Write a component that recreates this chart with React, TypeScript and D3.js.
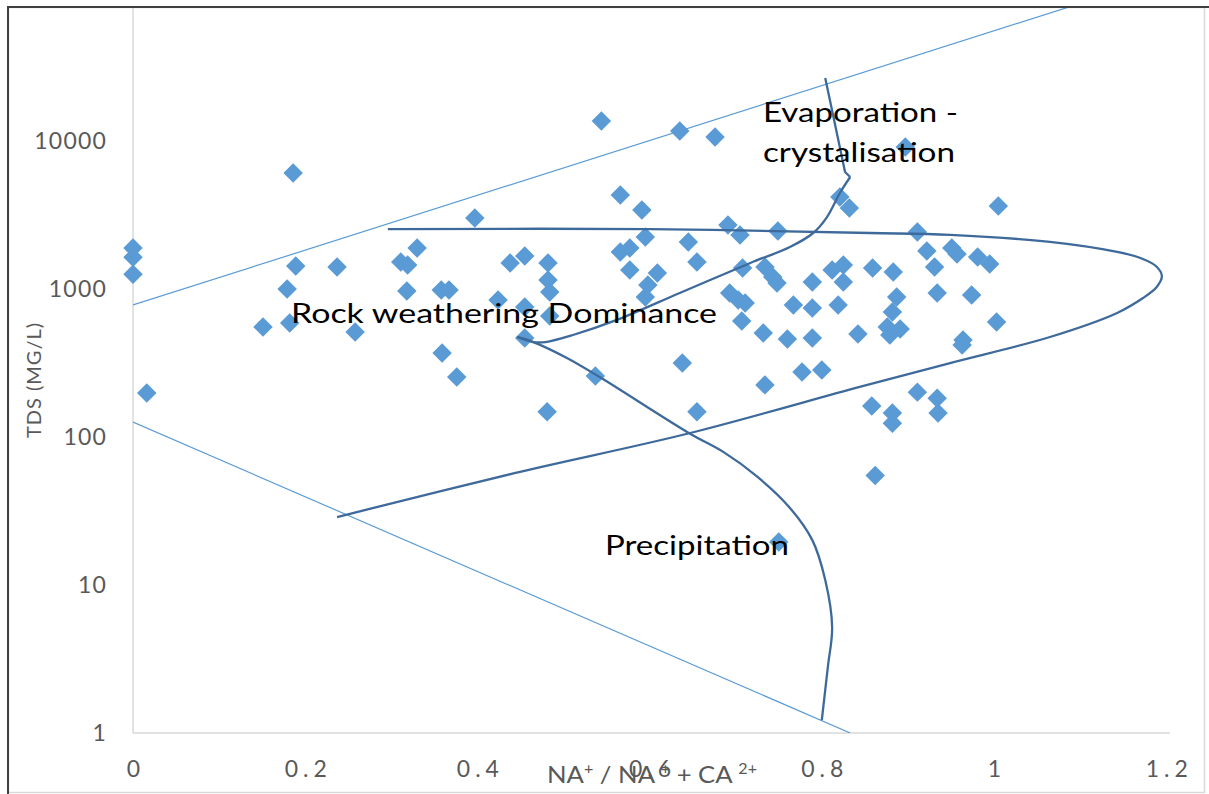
import React from "react";
import * as d3 from "d3";

// Sample points: Na+/(Na+ + Ca2+) ratio and TDS (mg/L)
const ratio = [
  0, 0, 0, 0.016, 0.186, 0.189, 0.237, 0.179, 0.151, 0.182, 0.258, 0.311, 0.319, 0.318, 0.33,
  0.397, 0.358, 0.367, 0.438, 0.455, 0.482, 0.482, 0.484, 0.424, 0.455, 0.484, 0.455, 0.359,
  0.376, 0.481, 0.537, 0.544, 0.635, 0.676, 0.566, 0.591, 0.595, 0.577, 0.566, 0.577, 0.609,
  0.598, 0.595, 0.638, 0.655, 0.645, 0.655, 0.691, 0.705, 0.749, 0.708, 0.734, 0.743, 0.748,
  0.693, 0.711, 0.707, 0.732, 0.76, 0.767, 0.789, 0.812, 0.825, 0.825, 0.789, 0.819, 0.789,
  0.842, 0.777, 0.8, 0.734, 0.821, 0.832, 0.897, 0.858, 0.911, 0.922, 0.951, 0.957, 0.981,
  0.995, 0.859, 0.883, 0.931, 0.934, 0.974, 0.887, 0.882, 1.003, 0.876, 0.891, 0.879, 0.964,
  0.963, 0.911, 0.934, 0.935, 0.882, 0.882, 0.862, 1.005, 0.75, 0.703,
];
const tds = [
  1890, 1640, 1260, 198, 6080, 1430, 1410, 1000, 554, 589, 512, 1520, 1450, 969, 1890,
  3020, 984, 984, 1500, 1670, 1500, 1150, 954, 843, 756, 657, 467, 370,
  254, 148, 258, 13650, 11690, 10640, 4320, 3420, 2245, 1890, 1780, 1344, 1282,
  1065, 883, 316, 148, 2078, 1522, 2706, 2317, 2466, 1387, 1409, 1205, 1098,
  940, 804, 608, 504, 459, 780, 1115, 1344, 1453, 1115, 744, 780, 467,
  497, 275, 284, 225, 4188, 3525, 9100, 162, 2427, 1807, 1892, 1722, 1644,
  1476, 1387, 1303, 1409, 940, 911, 883, 699, 599, 554, 537, 489, 452,
  419, 201, 183, 145, 145, 124, 55, 3640, 19.5, 843,
];

// Gibbs boundary lines
const upperLimitX = [0, 1.1];
const upperLimitY = [780, 85000];
const lowerLimitX = [0, 0.833];
const lowerLimitY = [126, 1];

const envelopeX = [0.296, 0.6, 0.856, 0.949, 1.065, 1.143, 1.17, 1.188, 1.195, 1.189, 1.173, 1.143, 1.065, 0.949, 0.844, 0.646, 0.443, 0.237];
const envelopeY = [2540, 2540, 2390, 2320, 2080, 1780, 1620, 1430, 1224, 1032, 869, 689, 474, 316, 218, 106, 57, 28.8];

const precipX = [0.446, 0.465, 0.504, 0.542, 0.646, 0.686, 0.725, 0.762, 0.789, 0.804, 0.812, 0.807, 0.8];
const precipY = [474, 438, 342, 254, 106, 79, 54, 33.7, 20.1, 10.8, 5.2, 2.79, 1.22];

const evapX = [0.446, 0.465, 0.479, 0.511, 0.562, 0.635, 0.717, 0.763, 0.79, 0.806, 0.821, 0.833];
const evapY = [474, 438, 438, 489, 618, 940, 1500, 1922, 2390, 3064, 4453, 5711];
const evapTipX = [0.833, 0.827, 0.804];
const evapTipY = [5711, 6176, 26650];

const xTicks = [0, 0.2, 0.4, 0.6, 0.8, 1, 1.2];
const xTickLabels = ["0", "0.2", "0.4", "0.6", "0.8", "1", "1.2"];
const yTicks = [1, 10, 100, 1000, 10000];
const yTickLabels = ["1", "10", "100", "1000", "10000"];

const W = 1209;
const H = 794;
const x = d3.scaleLinear().domain([0, 1.2]).range([133, 1166.2]);
const y = d3.scaleLog().domain([1, 100000]).range([733, -7]);

const zip = (xs: number[], ys: number[]) => xs.map((v, i) => [v, ys[i]] as [number, number]);

const straight = d3
  .line<[number, number]>()
  .x((d) => x(d[0]))
  .y((d) => y(d[1]));
const smooth = d3
  .line<[number, number]>()
  .x((d) => x(d[0]))
  .y((d) => y(d[1]))
  .curve(d3.curveCatmullRom.alpha(0.5));

const diamond = d3.symbol().type(d3.symbolSquare).size(190)() as string;

const FONT = "Lato, 'Open Sans', sans-serif";
const GRAY = "#595959";
const DARK = "#3E6A9B";
const LIGHT = "#5B9BD5";

export default function App() {
  return (
    <svg
      width={W}
      height={H}
      style={{ position: "absolute", left: 0, top: 0, background: "#fff" }}
    >
      <defs>
        <clipPath id="plotClip">
          <rect x={133} y={8} width={1070} height={725} />
        </clipPath>
      </defs>
      <rect x={0} y={0} width={W} height={H} fill="#fff" />
      {/* frame */}
      <rect x={8.5} y={7.5} width={1196} height={785} fill="none" stroke="#D9D9D9" strokeWidth={1.5} />
      <line x1={8} y1={7} x2={W} y2={7} stroke="#404040" strokeWidth={2} />
      <line x1={8} y1={6} x2={8} y2={H} stroke="#404040" strokeWidth={2} />

      {/* axes */}
      <line x1={x(0)} y1={8} x2={x(0)} y2={y(1)} stroke="#D9D9D9" strokeWidth={1.5} />
      <line x1={x(0)} y1={y(1)} x2={1170} y2={y(1)} stroke="#D9D9D9" strokeWidth={1.5} />

      {yTicks.map((t, i) => (
        <text
          key={"yt" + i}
          x={107}
          y={y(t) + 8}
          textAnchor="end"
          fontFamily={FONT}
          fontSize={23}
          letterSpacing={1.2}
          fill={GRAY}
        >
          {yTickLabels[i]}
        </text>
      ))}
      {xTicks.map((t, i) => (
        <text
          key={"xt" + i}
          x={x(t) + 3}
          y={777}
          textAnchor="middle"
          fontFamily={FONT}
          fontSize={23}
          letterSpacing={5}
          fill={GRAY}
        >
          {xTickLabels[i]}
        </text>
      ))}

      {/* axis titles */}
      <text
        transform="translate(41,380) rotate(-90)"
        textAnchor="middle"
        fontFamily={FONT}
        fontSize={20}
        letterSpacing={1}
        fill={GRAY}
      >
        TDS (MG/L)
      </text>
      <text x={547} y={783} fontFamily={FONT} fontSize={24} fill={GRAY} textLength={210} lengthAdjust="spacingAndGlyphs">
        NA
        <tspan fontSize={15} dy={-9}>+</tspan>
        <tspan dy={9}> / NA </tspan>
        <tspan fontSize={15} dy={-9}>+</tspan>
        <tspan dy={9}> + CA </tspan>
        <tspan fontSize={15} dy={-9}>2+</tspan>
      </text>

      {/* boundary lines */}
      <g clipPath="url(#plotClip)" fill="none">
        <path d={straight(zip(upperLimitX, upperLimitY)) as string} stroke={LIGHT} strokeWidth={1.2} />
        <path d={straight(zip(lowerLimitX, lowerLimitY)) as string} stroke={LIGHT} strokeWidth={1.2} />
      </g>

      {/* samples */}
      <g fill={LIGHT}>
        {ratio.map((r, i) => (
          <path key={"p" + i} d={diamond} transform={`translate(${x(r)},${y(tds[i])}) rotate(45)`} />
        ))}
      </g>

      {/* Gibbs fields */}
      <g fill="none" stroke={DARK} strokeWidth={2.3} strokeLinejoin="round">
        <path d={smooth(zip(envelopeX, envelopeY)) as string} />
        <path d={smooth(zip(precipX, precipY)) as string} />
        <path d={smooth(zip(evapX, evapY)) as string} />
        <path d={straight(zip(evapTipX, evapTipY)) as string} />
      </g>

      {/* annotations */}
      <g fontFamily={FONT} fontSize={26} fill="#000">
        <text x={291} y={323} textLength={426} lengthAdjust="spacingAndGlyphs">
          Rock weathering  Dominance
        </text>
        <text x={763} y={122} textLength={195} lengthAdjust="spacingAndGlyphs">
          Evaporation -
        </text>
        <text x={763} y={162} textLength={192} lengthAdjust="spacingAndGlyphs">
          crystalisation
        </text>
        <text x={605} y={555} textLength={184} lengthAdjust="spacingAndGlyphs">
          Precipitation
        </text>
      </g>
    </svg>
  );
}
